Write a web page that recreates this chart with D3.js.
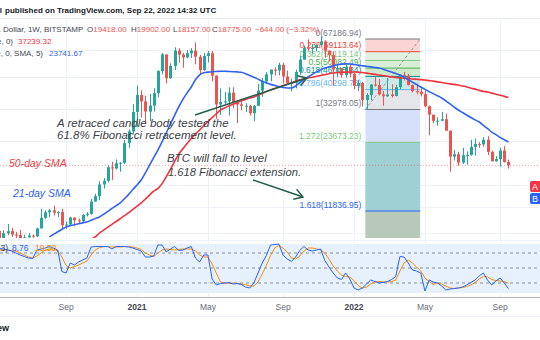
<!DOCTYPE html>
<html>
<head>
<meta charset="utf-8">
<script src="https://cdn.jsdelivr.net/npm/d3@7"></script>
<style>
  html, body { margin: 0; padding: 0; background: #fff; }
  svg { display: block; font-family: "Liberation Sans", Arial, sans-serif; }
</style>
</head>
<body>
<svg id="chart" width="540" height="340"></svg>
<script>
// ---- Weekly BTC/USD candles (Bitstamp), first bar opens 2020-05-18 ----
const firstWeek = "2020-05-18";
const opens = [9680,8720,9450,9660,9330,9290,9010,9070,9230,9160,9930,11050,11680,11910,11650,11710,10250,10330,11080,10770,10670,11390,11500,13030,13740,15480,16060,18400,18180,19150,19270,23480,26440,32180,38200,35800,32300,34300,38900,48600,57500,45200,51200,59800,57400,55800,58200,59800,56200,49100,56600,58200,46400,34700,35600,35800,39100,35500,34700,34200,34250,31800,34250,39900,43800,47000,49300,48900,51800,46000,43000,43200,48200,54600,61500,61300,61350,63300,65500,59700,57200,49400,50100,46700,50800,47300,41800,43100,36300,38200,42400,42200,38400,37700,38400,37800,41300,46800,46400,42200,39700,39500,38500,34100,31300,29400,29450,29900,26600,20500,21000,19300,20800,20850,22600,23300,23200,24300,21500,19550,19990,21800,19418];
const highs = [9840,9740,10380,9990,9590,9780,9310,9470,9330,10000,12100,11900,12080,12480,11800,12100,10640,11180,11080,10960,11490,11720,13350,14090,15970,16480,18810,19480,19920,19400,24250,26950,34780,41950,40100,37900,38550,40900,49000,58350,57500,52600,61800,61200,58400,60100,61300,64900,57200,58400,59600,59500,46600,40800,39400,41300,41300,36000,36600,35100,34600,34500,42600,45300,48100,49400,50500,52900,52800,48800,45000,49300,56600,62900,67000,63700,63000,69000,66400,59800,59200,51900,50100,51900,52100,47600,44400,43500,38900,42600,45800,44800,39800,45400,42600,42300,46900,48200,47200,42400,42900,40800,40000,34300,31300,30500,32200,31700,26700,21900,21500,22400,21600,24300,24600,23700,24900,25200,21800,20600,22400,22800,19902];
const lows = [8810,8630,9270,9110,8910,8830,8940,9050,9040,9120,9920,10900,11150,11300,11130,9880,9880,10220,10140,10380,10530,11200,11400,12980,13200,14830,15800,16200,18000,17600,19000,22400,25800,27700,30400,28800,29300,32300,37350,47000,43000,44950,49200,53000,50300,55400,55400,52000,47100,48750,53000,43800,30000,31200,34800,31000,33400,28800,32700,32100,31000,29300,34200,37500,43000,43800,46400,46600,42800,43000,39600,40800,46900,54400,59600,58000,59400,62300,55600,53500,42000,45700,45500,45500,45700,40500,39700,34000,32900,36200,41600,38000,34300,37500,37200,37600,40500,44200,42100,39200,38500,37600,33700,25400,28700,28000,29300,28500,17600,19700,18700,19000,18900,20700,20700,22400,22700,20800,19530,19500,18500,19300,18157];
const closes = [8720,9450,9660,9330,9290,9010,9070,9230,9160,9930,11050,11680,11910,11650,11710,10250,10330,11080,10770,10670,11390,11500,13030,13740,15480,16060,18400,18180,19150,19270,23480,26440,32180,38200,35800,32300,34300,38900,48600,57500,45200,51200,59800,57400,55800,58200,59800,56200,49100,56600,58200,46400,34700,35600,35800,39100,35500,34700,34200,34250,31800,34250,39900,43800,47000,49300,48900,51800,46000,43000,43200,48200,54600,61500,61300,61350,63300,65500,59700,57200,49400,50100,46700,50800,47300,41800,43100,36300,38200,42400,42200,38400,37700,38400,37800,41300,46800,46400,42200,39700,39500,38500,34100,31300,29400,29450,29900,26600,20500,21000,19300,20800,20850,22600,23300,23200,24300,21500,19550,19990,21800,19418,18775];

// ---- Moving averages (weekly values) ----
const sma21From = "2020-08-10";
const sma21 = [9110,9350,9600,9840,10080,10200,10300,10400,10500,10600,10780,10960,11140,11450,11800,12150,12500,12840,13400,14000,14700,15400,16190,17400,18800,20300,21900,23800,26000,28500,31100,33830,36500,39000,41370,44500,46800,47800,48100,48300,48400,48500,48500,48400,48300,48200,48000,47300,46500,45700,44800,43900,43100,42500,42000,41600,41200,41000,40960,41800,43200,44600,45800,47000,48200,49200,50100,50700,51300,51800,52150,52300,52200,51900,51630,51300,51000,50700,50400,50100,49500,48800,48100,47400,46700,45700,44600,43500,42400,41370,40400,39500,38700,37900,37050,36000,34900,33800,32800,32000,31200,30400,29700,29060,28100,27200,26270,25600,24900,24300,23741.67];
const sma50From = "2020-10-19";
const sma50 = [8900,9110,9480,9760,10050,10350,10650,10970,11300,11650,12030,12430,12840,13350,13900,14480,14850,15600,16700,18000,19500,21000,22200,23400,24600,25800,26800,28000,29200,30400,31600,32800,33500,34200,34800,35400,36000,36500,37000,37420,38100,38800,39500,40200,40800,41370,42000,42600,43200,43900,44500,45000,45310,45700,46100,46500,46900,47300,47660,47850,48000,48100,48140,48140,48100,47900,47600,47300,47000,46700,46400,46100,45770,45600,45400,45250,45100,44900,44750,44600,44420,44150,43900,43600,43300,43000,42700,42450,42210,41800,41400,40900,40500,40000,39600,39350,38900,38500,38100,37650,37239.32];

// ---- Stochastic oscillator (%K, %D), one value per week ----
const stochK = [89,88,86,84,80,76,73,70,69,86,88,90,93,90,86,43,40,60,56,62,66,70,92,93,93,93,93,88,93,93,93,92,90,87,84,72,72,74,96,96,82,88,93,85,86,90,93,70,62,76,76,28,16,19,20,21,18,19,17,12,10,20,40,60,75,96,97,98,76,68,63,72,85,93,86,84,86,88,65,52,40,30,27,40,28,10,6,10,18,26,23,20,21,23,27,33,73,72,60,46,44,40,4,26,22,20,14,6,8,9,10,12,16,21,26,34,40,26,16,24,30,20,8.76];
const stochD = [86,86,86,85,84,80,76,72,70,74,80,86,88,88,84,72,55,50,53,56,60,64,76,86,91,93,93,92,92,92,93,93,92,90,87,80,76,73,80,86,88,87,86,87,88,88,88,84,76,72,72,58,40,22,19,20,20,19,18,17,14,14,22,38,55,75,90,95,90,82,70,68,74,84,90,90,88,86,80,68,54,44,36,33,32,25,15,10,12,18,22,23,22,22,23,26,44,60,66,60,52,44,30,23,17,20,18,14,10,9,10,11,13,16,21,28,33,32,27,25,24,23,19.5];
const stochBands = [80, 50, 20];

// ---- Fibonacci extension levels ----
const fibLevels = ["0", "0.236", "0.382", "0.5", "0.618", "0.786", "1", "1.272", "1.618"];
const fibPrices = [67186.94, 59113.64, 54119.14, 50082.49, 46045.84, 40298.73, 32978.05, 23673.23, 11836.95];
const fibLineColors = ["#787b86", "#f44336", "#81c784", "#4caf50", "#009688", "#64b5f6", "#787b86", "#81c784", "#2962ff"];
const fibFillColors = ["#fbd5d3", "#e2f2e0", "#d9eed7", "#cfe9cd", "#cde8e6", "#e4e6ea", "#d6e0fb", "#9fd0d4", "#b7c9b8"];
const fibStart = "2022-01-22", fibEnd = "2022-04-24";

// ---- Axis ticks ----
const timeTicks = ["2020-09-07", "2021-01-04", "2021-05-03", "2021-09-06", "2022-01-03", "2022-05-02", "2022-09-05"];
const timeTickLabels = ["Sep", "2021", "May", "Sep", "2022", "May", "Sep"];
const priceGrid = [60300, 45800, 33100, 24100, 15400, 12300, 9480];

const lastClose = 18775.00;

// ---------------------------------------------------------------
const svg = d3.select("#chart");
const W = 540, H = 340;
const paneTop = 19, paneBottom = 238;
const stochTop = 241, axisY = 297;

const parse = d3.utcParse("%Y-%m-%d");
const x = d3.scaleUtc()
  .domain([parse("2021-01-04"), parse("2022-01-03")])
  .range([137, 354]);
const y = d3.scaleLog()
  .domain([fibPrices[8], fibPrices[0]])
  .range([211, 39]);
const ys = d3.scaleLinear().domain([0, 100]).range([293, 243]);

const weekDate = (start, i) => d3.utcDay.offset(parse(start), 7 * i);

const candles = closes.map((c, i) => ({
  date: weekDate(firstWeek, i), o: opens[i], h: highs[i], l: lows[i], c
}));

svg.append("rect").attr("width", W).attr("height", H).attr("fill", "#fff");

const defs = svg.append("defs");
defs.append("clipPath").attr("id", "pricePane")
  .append("rect").attr("x", 0).attr("y", paneTop).attr("width", W).attr("height", paneBottom - paneTop);
defs.append("clipPath").attr("id", "stochPane")
  .append("rect").attr("x", 0).attr("y", stochTop).attr("width", W).attr("height", axisY - stochTop);

// header
svg.append("text").attr("x", 2).attr("y", 13).attr("text-anchor", "end")
  .attr("font-size", 8).attr("font-weight", 600).attr("fill", "#131722").text("coinidol");
svg.append("text").attr("x", 5).attr("y", 13)
  .attr("font-size", 8).attr("font-weight", 600).attr("fill", "#131722")
  .text("published on TradingView.com, Sep 22, 2022 14:32 UTC");
svg.append("line").attr("x1", 0).attr("x2", W).attr("y1", 18.5).attr("y2", 18.5)
  .attr("stroke", "#e9ecf2");

// grid
const grid = svg.append("g");
grid.selectAll("line.v").data(timeTicks).join("line")
  .attr("x1", d => Math.round(x(parse(d))) + 0.5).attr("x2", d => Math.round(x(parse(d))) + 0.5)
  .attr("y1", paneTop).attr("y2", axisY).attr("stroke", "#eef1f7");
grid.selectAll("line.h").data(priceGrid).join("line")
  .attr("x1", 0).attr("x2", W)
  .attr("y1", d => Math.round(y(d)) + 0.5).attr("y2", d => Math.round(y(d)) + 0.5)
  .attr("stroke", "#eef1f7");

// price pane
const pane = svg.append("g").attr("clip-path", "url(#pricePane)");

// fib extension block
const fx0 = x(parse(fibStart)), fx1 = x(parse(fibEnd));
const fibBottom = paneBottom;
pane.selectAll("rect.fib").data(fibPrices).join("rect")
  .attr("x", fx0).attr("width", fx1 - fx0)
  .attr("y", d => y(d))
  .attr("height", (d, i) => (i < fibPrices.length - 1 ? y(fibPrices[i + 1]) : fibBottom) - y(d))
  .attr("fill", (d, i) => fibFillColors[i]);
pane.selectAll("line.fib").data(fibPrices).join("line")
  .attr("x1", fx0).attr("x2", fx1)
  .attr("y1", d => y(d)).attr("y2", d => y(d))
  .attr("stroke", (d, i) => fibLineColors[i]).attr("stroke-width", 1);
pane.append("line")
  .attr("x1", fx0).attr("y1", y(fibPrices[6]))
  .attr("x2", fx1).attr("y2", y(fibPrices[0]))
  .attr("stroke", "#9598a1").attr("stroke-dasharray", "3,2");
pane.selectAll("text.fib").data(fibPrices).join("text")
  .attr("x", fx0 - 4).attr("y", d => y(d) - 3.5)
  .attr("text-anchor", "end").attr("font-size", 8.5)
  .attr("fill", (d, i) => fibLineColors[i])
  .text((d, i) => `${fibLevels[i]}(${d.toFixed(2)})`);

// last price line
pane.append("line").attr("x1", 0).attr("x2", W)
  .attr("y1", y(lastClose)).attr("y2", y(lastClose))
  .attr("stroke", "#ef5350").attr("stroke-opacity", 0.6).attr("stroke-dasharray", "1,2");

// candles
const up = "#26a69a", down = "#ef5350";
const cg = pane.append("g");
cg.selectAll("line").data(candles).join("line")
  .attr("x1", d => Math.round(x(d.date)) + 0.5).attr("x2", d => Math.round(x(d.date)) + 0.5)
  .attr("y1", d => y(d.h)).attr("y2", d => y(d.l))
  .attr("stroke", d => d.c >= d.o ? up : down);
cg.selectAll("rect").data(candles).join("rect")
  .attr("x", d => Math.round(x(d.date)) - 1)
  .attr("width", 3)
  .attr("y", d => y(Math.max(d.o, d.c)))
  .attr("height", d => Math.max(1, Math.abs(y(d.o) - y(d.c))))
  .attr("fill", d => d.c >= d.o ? up : down);

// moving averages
const maLine = d3.line().x(d => x(d.date)).y(d => y(d.v)).curve(d3.curveMonotoneX);
const toSeries = (from, vals) => vals.map((v, i) => ({ date: weekDate(from, i), v }));
pane.append("path").datum(toSeries(sma50From, sma50)).attr("d", maLine)
  .attr("fill", "none").attr("stroke", "#f0333f").attr("stroke-width", 1.6);
pane.append("path").datum(toSeries(sma21From, sma21)).attr("d", maLine)
  .attr("fill", "none").attr("stroke", "#2f62f5").attr("stroke-width", 1.6);

// legend
const leg = svg.append("g").attr("font-size", 8);
leg.append("text").attr("x", 1).attr("y", 32).attr("text-anchor", "end").attr("fill", "#434651").text("Bitcoin / U.S.");
leg.append("text").attr("x", 3).attr("y", 32).attr("fill", "#434651").text("Dollar, 1W, BITSTAMP");
const ohlc = [["O", "19418.00", 87], ["H", "19902.00", 131], ["L", "18157.00", 173], ["C", "18775.00", 212]];
ohlc.forEach(([k, v, px]) => {
  const t = leg.append("text").attr("x", px).attr("y", 32);
  t.append("tspan").attr("fill", "#434651").text(k);
  t.append("tspan").attr("fill", "#ef5350").text(v);
});
leg.append("text").attr("x", 255).attr("y", 32).attr("fill", "#ef5350").text("\u2212644.00 (\u22123.32%)");
leg.append("text").attr("x", 13).attr("y", 44).attr("text-anchor", "end").attr("fill", "#434651").text("MA (50, close, 0)");
leg.append("text").attr("x", 18).attr("y", 44).attr("fill", "#f0333f").text(sma50[sma50.length - 1].toFixed(2));
leg.append("text").attr("x", 43).attr("y", 56).attr("text-anchor", "end").attr("fill", "#434651").text("MA (21, close, 0, SMA, 5)");
leg.append("text").attr("x", 49).attr("y", 56).attr("fill", "#2f62f5").text(sma21[sma21.length - 1].toFixed(2));

// annotations
const note = svg.append("g").attr("font-style", "italic").attr("fill", "#3d3f46");
note.append("text").attr("x", 57).attr("y", 127).attr("font-size", 11.5).text("A retraced candle body tested the");
note.append("text").attr("x", 57).attr("y", 139).attr("font-size", 11.5).text("61.8% Fibonacci retracement level.");
note.append("text").attr("x", 167).attr("y", 162).attr("font-size", 11.5).text("BTC will fall to level");
note.append("text").attr("x", 168).attr("y", 176).attr("font-size", 11.2).text("1.618 Fibonacci extension.");
note.append("text").attr("x", 9).attr("y", 167).attr("font-size", 10.5).attr("fill", "#ef3d47").text("50-day SMA");
note.append("text").attr("x", 13).attr("y", 197).attr("font-size", 10.5).attr("fill", "#2f62f5").text("21-day SMA");

// arrows
function arrow(x1, y1, x2, y2) {
  const g = svg.append("g").attr("stroke", "#1f5e48").attr("stroke-width", 1.4).attr("fill", "none");
  g.append("line").attr("x1", x1).attr("y1", y1).attr("x2", x2).attr("y2", y2);
  const a = Math.atan2(y2 - y1, x2 - x1), L = 10, s = 0.55;
  g.append("path").attr("d",
    `M${x2 - L * Math.cos(a - s)},${y2 - L * Math.sin(a - s)}L${x2},${y2}L${x2 - L * Math.cos(a + s)},${y2 - L * Math.sin(a + s)}`);
}
arrow(195, 115, 307, 78);
arrow(253, 180, 303, 197);

// right-edge badges
svg.append("rect").attr("x", 530).attr("y", 181).attr("width", 12).attr("height", 11).attr("rx", 2).attr("fill", "#f23645");
svg.append("text").attr("x", 532).attr("y", 190).attr("font-size", 9).attr("fill", "#fff").text("A");
svg.append("rect").attr("x", 530).attr("y", 193).attr("width", 12).attr("height", 11).attr("rx", 2).attr("fill", "#2962ff");
svg.append("text").attr("x", 532).attr("y", 202).attr("font-size", 9).attr("fill", "#fff").text("B");

// stochastic pane
svg.append("line").attr("x1", 0).attr("x2", W).attr("y1", stochTop - 0.5).attr("y2", stochTop - 0.5).attr("stroke", "#eef1f7");
svg.append("rect").attr("x", 0).attr("width", W)
  .attr("y", ys(100) + 1).attr("height", ys(0) - ys(100) - 1).attr("fill", "#e6f1fd");
svg.selectAll("line.band").data(stochBands).join("line")
  .attr("x1", 0).attr("x2", W).attr("y1", d => ys(d)).attr("y2", d => ys(d))
  .attr("stroke", "#8a8d96").attr("stroke-dasharray", "3,3");
const sp = svg.append("g").attr("clip-path", "url(#stochPane)");
const sLine = d3.line().x((d, i) => x(weekDate(firstWeek, i))).y(d => ys(d));
sp.append("path").datum(stochD).attr("d", sLine).attr("fill", "none").attr("stroke", "#fb8c00").attr("stroke-width", 1);
sp.append("path").datum(stochK).attr("d", sLine).attr("fill", "none").attr("stroke", "#2962ff").attr("stroke-width", 1);
const sl = svg.append("g").attr("font-size", 8.5);
sl.append("text").attr("x", 8).attr("y", 251).attr("text-anchor", "end").attr("fill", "#434651").text("Stoch (14, 3, 3)");
sl.append("text").attr("x", 12).attr("y", 251).attr("fill", "#2962ff").text(stochK[stochK.length - 1].toFixed(2));
sl.append("text").attr("x", 35).attr("y", 251).attr("fill", "#fb8c00").text(stochD[stochD.length - 1].toFixed(2));

// time axis
svg.append("line").attr("x1", 0).attr("x2", W).attr("y1", axisY + 0.5).attr("y2", axisY + 0.5).attr("stroke", "#b2b5be");
svg.selectAll("text.tick").data(timeTicks).join("text")
  .attr("x", d => x(parse(d))).attr("y", 310).attr("text-anchor", "middle")
  .attr("font-size", 8.5)
  .attr("font-weight", (d, i) => /^\d/.test(timeTickLabels[i]) ? 700 : 400)
  .attr("fill", (d, i) => /^\d/.test(timeTickLabels[i]) ? "#434651" : "#6a6d78")
  .text((d, i) => timeTickLabels[i]);
svg.append("line").attr("x1", 0).attr("x2", W).attr("y1", 316.5).attr("y2", 316.5).attr("stroke", "#eef1f7");

// footer brand
svg.append("text").attr("x", 9).attr("y", 331).attr("text-anchor", "end")
  .attr("font-size", 9).attr("font-weight", 700).attr("fill", "#131722").text("TradingView");
</script>
</body>
</html>
